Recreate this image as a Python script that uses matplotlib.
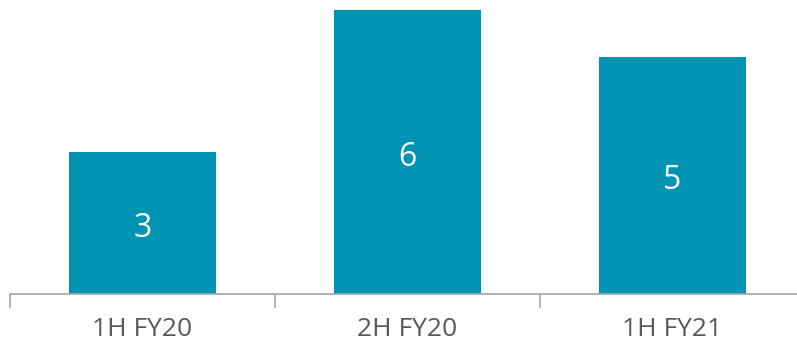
import matplotlib
matplotlib.use("Agg")
import matplotlib.pyplot as plt

categories = ["1H FY20", "2H FY20", "1H FY21"]
values = [3, 6, 5]

plt.rcParams['font.family'] = ['Open Sans', 'DejaVu Sans']

fig = plt.figure(figsize=(7.97, 3.49), dpi=100)
# axes runs slightly past the right edge, like the original
ax = fig.add_axes([10/797, 55.5/349, 795/797, 283.5/349])

bar_color = '#0093b2'
x = range(len(categories))
bars = ax.bar(x, values, width=0.555, color=bar_color)

for b, v in zip(bars, values):
    ax.annotate(str(v), (b.get_x() + b.get_width()/2, v/2), xytext=(0, -4),
                textcoords='offset points', ha='center', va='center',
                color='white', fontsize=23)

ax.set_xlim(-0.5, 2.5)
ax.set_ylim(0, 6)
ax.set_xticks([-0.5, 0.5, 1.5, 2.5])
ax.set_xticklabels([])
ax.set_xticks(list(x), minor=True)
ax.set_xticklabels(categories, minor=True, fontsize=19, color='#595959')
ax.tick_params(axis='x', which='major', length=10, width=1.2, color='#a6a6a6')
ax.tick_params(axis='x', which='minor', length=0, pad=17)
ax.set_yticks([])
for s in ['top', 'right', 'left']:
    ax.spines[s].set_visible(False)
ax.spines['bottom'].set_color('#a6a6a6')
ax.spines['bottom'].set_linewidth(1.2)

fig.savefig('out.png', dpi=100)
